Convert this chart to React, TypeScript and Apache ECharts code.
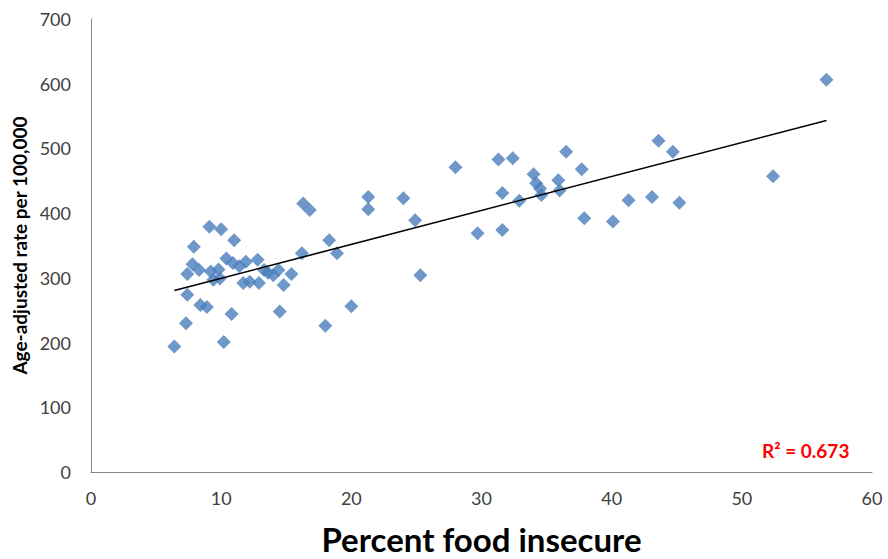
import React, { useEffect, useRef } from "react";
import * as echarts from "echarts";

const foodInsecure: number[] = [
  6.4, 7.3, 7.4, 7.4, 7.8, 7.9, 8.3, 8.4, 8.9, 9.1, 9.2, 9.4, 9.8, 9.9, 10.0,
  10.2, 10.4, 10.8, 10.9, 11.0, 11.4, 11.7, 11.9, 12.2, 12.8, 12.9, 13.3, 13.6,
  14.0, 14.4, 14.5, 14.8, 15.4, 16.2, 16.3, 16.8, 18.0, 18.3, 18.9, 20.0, 21.3,
  21.3, 24.0, 24.9, 25.3, 28.0, 29.7, 31.3, 31.6, 31.6, 32.4, 32.9, 34.0, 34.2,
  34.5, 34.6, 35.9, 36.0, 36.5, 37.7, 37.9, 40.1, 41.3, 43.1, 43.6, 44.7, 45.2,
  52.4, 56.5,
];
const ageAdjustedRate: number[] = [
  194, 230, 274, 306, 321, 348, 312, 258, 255, 379, 310, 297, 313, 299, 375,
  201, 330, 244, 323, 358, 318, 292, 325, 294, 328, 292, 312, 308,
  304, 312, 248, 289, 306, 338, 415, 405, 226, 358, 338, 256, 425,
  406, 423, 389, 304, 471, 369, 483, 431, 374, 485, 419, 460, 446,
  438, 428, 451, 435, 495, 468, 392, 387, 420, 425, 512, 495, 416,
  457, 606,
];
const xTicks = [0, 60, 10];
const yTicks = [0, 700, 100];
const rSquaredLabel = "R² = 0.673";
const xTitle = "Percent food insecure";
const yTitle = "Age-adjusted rate per 100,000";

function linearFit(xs: number[], ys: number[]) {
  const n = xs.length;
  const mx = xs.reduce((a, b) => a + b, 0) / n;
  const my = ys.reduce((a, b) => a + b, 0) / n;
  let sxy = 0;
  let sxx = 0;
  for (let i = 0; i < n; i++) {
    sxy += (xs[i] - mx) * (ys[i] - my);
    sxx += (xs[i] - mx) * (xs[i] - mx);
  }
  const slope = sxy / sxx;
  return { slope, intercept: my - slope * mx };
}

export default function App() {
  const ref = useRef<HTMLDivElement>(null);
  useEffect(() => {
    if (!ref.current) return;
    const chart = echarts.init(ref.current, undefined, { renderer: "svg" });
    const points = foodInsecure.map((x, i) => [x, ageAdjustedRate[i]]);
    const { slope, intercept } = linearFit(foodInsecure, ageAdjustedRate);
    const xmin = Math.min(...foodInsecure);
    const xmax = Math.max(...foodInsecure);
    const trend = [
      [xmin, intercept + slope * xmin],
      [xmax, intercept + slope * xmax],
    ];
    const font = "Lato, 'Open Sans', sans-serif";
    chart.setOption({
      animation: false,
      textStyle: { fontFamily: font },
      grid: {
        left: 91,
        right: 16,
        top: 19,
        bottom: 87,
        containLabel: false,
        outerBoundsMode: "none",
      },
      xAxis: {
        type: "value",
        min: xTicks[0],
        max: xTicks[1],
        interval: xTicks[2],
        name: xTitle,
        nameLocation: "middle",
        nameGap: 50,
        nameTextStyle: {
          fontSize: 33,
          lineHeight: 33,
          fontWeight: "bold",
          color: "#000",
          fontFamily: font,
        },
        axisLine: { show: true, lineStyle: { color: "#868686", width: 1 } },
        axisTick: { show: false },
        splitLine: { show: false },
        axisLabel: { fontSize: 18, color: "#404040", margin: 17, fontFamily: font },
      },
      yAxis: {
        type: "value",
        min: yTicks[0],
        max: yTicks[1],
        interval: yTicks[2],
        name: yTitle,
        nameLocation: "middle",
        nameRotate: 90,
        nameGap: 58,
        nameTextStyle: { fontSize: 19, fontWeight: "bold", color: "#000", fontFamily: font },
        axisLine: { show: true, lineStyle: { color: "#868686", width: 1 } },
        axisTick: { show: false },
        splitLine: { show: false },
        axisLabel: { fontSize: 18, color: "#404040", margin: 20, fontFamily: font },
      },
      graphic: [
        {
          type: "text",
          left: 762,
          top: 441,
          style: {
            text: rSquaredLabel,
            fill: "#ff0000",
            font: `bold 19px ${font}`,
          },
        },
      ],
      series: [
        {
          type: "scatter",
          data: points,
          symbol: "diamond",
          symbolSize: 14,
          itemStyle: { color: "#4a7ebb" },
          z: 2,
        },
        {
          type: "line",
          data: trend,
          showSymbol: false,
          symbol: "none",
          lineStyle: { color: "#000", width: 1.6 },
          z: 3,
        },
      ],
    });
    return () => chart.dispose();
  }, []);
  return (
    <div
      ref={ref}
      style={{ position: "absolute", left: 0, top: 0, width: 888, height: 559 }}
    />
  );
}
